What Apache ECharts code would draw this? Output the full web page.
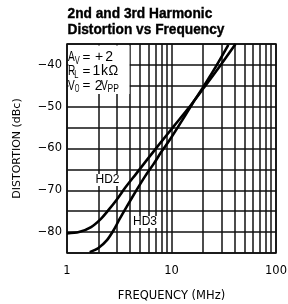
<!DOCTYPE html>
<html><head><meta charset="utf-8">
<script src="https://cdn.jsdelivr.net/npm/echarts@6/dist/echarts.min.js"></script>
<style>html,body{margin:0;padding:0;background:#fff}#c{width:288px;height:304px}</style>
</head><body><div id="c"></div>
<script>
const titleLines = ["2nd and 3rd Harmonic", "Distortion vs Frequency"];
const xAxisName = "FREQUENCY (MHz)";
const yAxisName = "DISTORTION (dBc)";
const xTickLabels = ["1", "10", "100"];
const xMinorGrid = [2, 3, 4, 5, 6, 7, 8, 9, 20, 30, 40, 50, 60, 70, 80, 90];
const hd2Freq = [1.0, 1.3, 1.7, 2.1, 2.5, 3.0, 3.6, 4.6, 6.0, 7.8, 10.5, 14.5, 20.2, 29.0, 41.0];
const hd2Db   = [-80.3, -80.0, -78.8, -76.9, -74.7, -72.2, -69.4, -66.0, -62.3, -58.7, -54.7, -50.4, -45.6, -40.3, -35.0];
const hd3Freq = [1.65, 2.0, 2.4, 2.8, 3.2, 3.73, 4.64, 5.6, 6.7, 8.0, 9.7, 13.0, 16.0, 20.2, 27.0, 35.0];
const hd3Db   = [-84.8, -83.8, -82.0, -79.5, -76.8, -73.9, -69.9, -66.6, -63.8, -60.8, -57.8, -52.8, -49.1, -45.2, -40.1, -35.2];

const chart = echarts.init(document.getElementById('c'), null, {renderer: 'canvas'});
const axisFont = 'DejaVu Sans';
const gridColor = '#111';
function pairs(xs, ys) { return xs.map((x, i) => [x, ys[i]]); }

// title squeezed to the reference width
const titleFont = 'bold 15.5px "Liberation Sans"';
const mctx = document.createElement('canvas').getContext('2d');
mctx.font = titleFont;
const titleScale = 157 / mctx.measureText(titleLines[1]).width;

function tok(text, x, y, size, sx) {
  return {type: 'text', z: 101, x: x, y: y, scaleX: sx || 1,
    style: {text: text, font: size + 'px "Liberation Sans"', fill: '#000', verticalAlign: 'middle'}};
}
const L = 0.72; // letter squeeze
const annotation = [
  tok('A', 68, 57.3, 14, L), tok('V', 74.8, 61, 10, 0.75), tok('=', 82.5, 57.3, 13.5), tok('+', 95, 57.3, 14), tok('2', 105.3, 57.3, 14),
  tok('R', 68, 71, 14, L), tok('L', 74.3, 74.8, 10, 0.75), tok('=', 82.5, 71, 13.5), tok('1', 92.5, 71, 14), tok('k', 101, 71, 14), tok('\u03A9', 108.6, 71, 14, 0.93),
  tok('V', 68, 85.7, 14, L), tok('O', 74.7, 89.5, 10, 0.6), tok('=', 82.5, 85.7, 13.5), tok('2', 94.8, 85.7, 14), tok('V', 100.9, 85.7, 14, L), tok('PP', 107.5, 89.5, 10, 0.85)
];

const option = {
  animation: false,
  backgroundColor: '#fff',
  grid: {left: 67, right: 12, top: 44, bottom: 51, show: true, borderColor: '#000', borderWidth: 1.5, backgroundColor: 'transparent', outerBoundsMode: 'none', containLabel: false},
  xAxis: {
    type: 'log', logBase: 10, min: 1, max: 100,
    name: xAxisName, nameLocation: 'middle', nameGap: 37,
    nameTextStyle: {fontFamily: axisFont, fontSize: 11.5, color: '#000'},
    axisLine: {show: false}, axisTick: {show: false},
    axisLabel: {margin: 12, fontFamily: axisFont, fontSize: 11.5, color: '#000',
      formatter: v => { const s = String(Math.round(v)); return xTickLabels.includes(s) ? s : ''; }},
    splitLine: {show: true, lineStyle: {color: gridColor, width: 1.5}}
  },
  yAxis: {
    type: 'value', min: -85, max: -35, interval: 5,
    name: yAxisName, nameLocation: 'middle', nameGap: 44, nameRotate: 90,
    nameTextStyle: {fontFamily: axisFont, fontSize: 11, color: '#000'},
    axisLine: {show: false}, axisTick: {show: false},
    axisLabel: {margin: 5, fontFamily: axisFont, fontSize: 11.5, color: '#000',
      formatter: v => (v % 10 === 0 && v > -85 && v < -35) ? String(v).replace('-', '\u2212') : ''},
    splitLine: {show: true, lineStyle: {color: gridColor, width: 1.5}}
  },
  graphic: [
    {type: 'text', z: 101, x: 67.5, y: 13.8, scaleX: titleScale,
      style: {text: titleLines[0], font: titleFont, fill: '#000', stroke: '#000', lineWidth: 0.4, verticalAlign: 'middle'}},
    {type: 'text', z: 101, x: 67.5, y: 29.8, scaleX: titleScale,
      style: {text: titleLines[1], font: titleFont, fill: '#000', stroke: '#000', lineWidth: 0.4, verticalAlign: 'middle'}},
    {type: 'rect', z: 100, shape: {x: 68.5, y: 45.5, width: 61, height: 48.5}, style: {fill: '#fff'}}
  ].concat(annotation).concat([
    {type: 'text', z: 101, x: 107.5, y: 180, style: {text: 'HD2', font: '12px "Liberation Sans"', fill: '#000', align: 'center', verticalAlign: 'middle', backgroundColor: '#fff', padding: [0, 1]}},
    {type: 'text', z: 101, x: 145, y: 222, style: {text: 'HD3', font: '12px "Liberation Sans"', fill: '#000', align: 'center', verticalAlign: 'middle', backgroundColor: '#fff', padding: [0, 1]}}
  ]),
  series: [
    {
      name: 'grid', type: 'line', data: [], silent: true,
      markLine: {silent: true, symbol: ['none', 'none'], label: {show: false},
        lineStyle: {color: gridColor, width: 1.5, type: 'solid'},
        emphasis: {disabled: true},
        data: xMinorGrid.map(v => ({xAxis: v}))}
    },
    {name: 'HD2', type: 'line', data: pairs(hd2Freq, hd2Db), smooth: 0.3, showSymbol: false, symbol: 'none',
      lineStyle: {color: '#000', width: 2.6}, z: 5},
    {name: 'HD3', type: 'line', data: pairs(hd3Freq, hd3Db), smooth: 0.3, showSymbol: false, symbol: 'none',
      lineStyle: {color: '#000', width: 2.6}, z: 5}
  ]
};
chart.setOption(option);
</script></body></html>
